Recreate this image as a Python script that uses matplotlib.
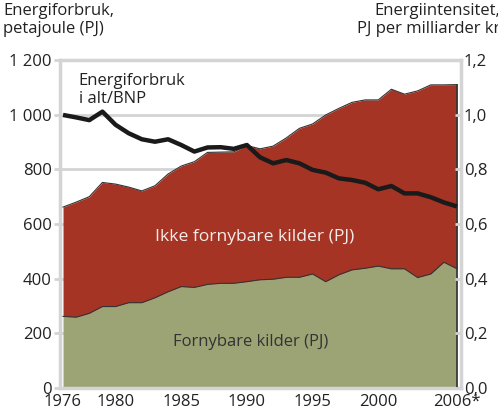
import matplotlib
matplotlib.use("Agg")
import matplotlib.pyplot as plt
from matplotlib.ticker import FuncFormatter

plt.rcParams['font.family'] = ['Open Sans', 'DejaVu Sans']

years = list(range(1976, 2007))
total = [662, 680, 700, 752, 746, 735, 721, 740, 783, 812,
         828, 862, 863, 864, 887, 875, 885, 915, 950, 966,
         999, 1023, 1045, 1054, 1054, 1093, 1075, 1087, 1109, 1109, 1110]
fornybar = [262, 259, 273, 298, 298, 312, 312, 330, 352, 371,
            368, 379, 383, 383, 389, 396, 398, 405, 405, 417,
            389, 414, 432, 438, 446, 436, 436, 404, 417, 460, 436]
intensitet = [0.999, 0.990, 0.980, 1.011, 0.963, 0.932, 0.910, 0.901, 0.910, 0.889,
              0.865, 0.880, 0.881, 0.875, 0.889, 0.844, 0.822, 0.834, 0.822, 0.798,
              0.788, 0.767, 0.761, 0.751, 0.727, 0.739, 0.712, 0.712, 0.698, 0.679, 0.664]
xticks = [1976, 1980, 1985, 1990, 1995, 2000, 2006]
xlabels = ['1976', '1980', '1985', '1990', '1995', '2000', '2006*']

RED = '#a63424'
GREEN = '#9ca375'
GRID = '#d4d4d4'
EDGE = '#333333'
TXT = '#222222'
FS = 12

fig = plt.figure(figsize=(4.98, 4.11), dpi=100)
ax = fig.add_axes([60 / 498, 23 / 411, 401 / 498, 328 / 411])

ax.fill_between(years, 0, fornybar, color=GREEN, lw=0, zorder=2)
ax.fill_between(years, fornybar, total, color=RED, lw=0, zorder=2)
ax.plot(years, fornybar, color=EDGE, lw=0.8, zorder=3)
ax.plot(years, total, color=EDGE, lw=0.8, zorder=3)
ax.plot([years[-1], years[-1]], [0, total[-1]], color=EDGE, lw=1.2, zorder=3)

ax.set_xlim(1975.77, 2006.3)
ax.set_ylim(0, 1200)
ax.set_yticks(range(0, 1201, 200))
ax.yaxis.set_major_formatter(FuncFormatter(lambda v, p: f'{int(v):,}'.replace(',', ' ')))
ax.set_xticks(xticks)
ax.set_xticklabels(xlabels)
ax.grid(axis='y', color=GRID, lw=2, zorder=1)
ax.set_axisbelow(True)
for s in ax.spines.values():
    s.set_color(GRID)
    s.set_linewidth(2.5)
ax.tick_params(axis='both', colors=GRID, labelcolor=TXT, labelsize=FS, length=4, width=2, pad=2)
ax.tick_params(axis='x', length=0, pad=4)

ax2 = ax.twinx()
ax2.plot(years, intensitet, color='#1a1a1a', lw=3.2, zorder=5, solid_capstyle='butt')
ax2.set_ylim(0, 1.2)
ax2.set_yticks([0, 0.2, 0.4, 0.6, 0.8, 1.0, 1.2])
ax2.yaxis.set_major_formatter(FuncFormatter(lambda v, p: f'{v:.1f}'.replace('.', ',')))
for s in ax2.spines.values():
    s.set_visible(False)
ax2.tick_params(axis='y', colors=GRID, labelcolor=TXT, labelsize=FS, length=4, width=2,
                direction='in', pad=2)

ax.text(1977.2, 1090, 'Energiforbruk\ni alt/BNP', fontsize=FS, color=TXT, va='center', linespacing=1.2, zorder=6)
ax.text(1990.6, 553, 'Ikke fornybare kilder (PJ)', fontsize=12.6, color='#f6ece9', ha='center', va='center', zorder=6)
ax.text(1990.25, 168, 'Fornybare kilder (PJ)', fontsize=FS, color='#333333', ha='center', va='center', zorder=6)

fig.text(3 / 498, 1 - 3 / 411, 'Energiforbruk,\npetajoule (PJ)', fontsize=FS, color=TXT,
         ha='left', va='top', linespacing=1.2)
fig.text(500 / 498, 1 - 3 / 411, 'Energiintensitet,\nPJ per milliarder kr', fontsize=FS, color=TXT,
         ha='right', va='top', multialignment='right', linespacing=1.2)

fig.savefig('out.png', dpi=100)
